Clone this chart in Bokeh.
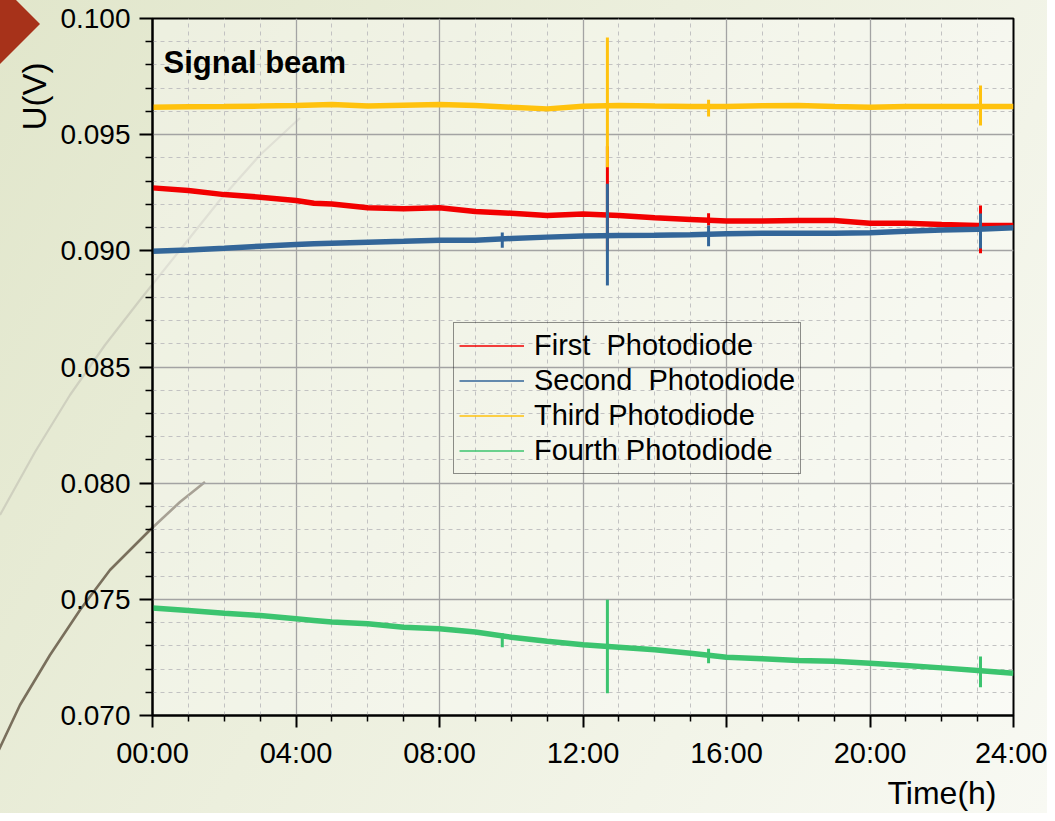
import math
from bokeh.plotting import figure
from bokeh.models import (Range1d, FixedTicker, Legend, LegendItem, Label, Title,
                          NumeralTickFormatter)
from bokeh.embed import file_html
from bokeh.resources import INLINE

# ---------------- data ----------------
hours = [0, 1, 2, 3, 4, 4.5, 5, 6, 7, 8, 9, 10, 11, 12, 13, 14, 15, 16, 17, 18, 19, 20, 21, 22, 23, 24]

first_pd = [0.09271, 0.09260, 0.09242, 0.09231, 0.09217, 0.09205, 0.09202, 0.09185, 0.09181, 0.09185,
            0.09169, 0.09162, 0.09152, 0.09159, 0.09152, 0.09142, 0.09135, 0.09128, 0.09128, 0.09131,
            0.09131, 0.09119, 0.09119, 0.09113, 0.09109, 0.09109]
second_pd = [0.08998, 0.09004, 0.09011, 0.09020, 0.09027, 0.09030, 0.09033, 0.09037, 0.09041, 0.09046,
             0.09046, 0.09053, 0.09059, 0.09064, 0.09066, 0.09067, 0.09069, 0.09073, 0.09076, 0.09076,
             0.09076, 0.09078, 0.09084, 0.09090, 0.09093, 0.09099]
third_pd = [0.09618, 0.09620, 0.09621, 0.09623, 0.09626, 0.09628, 0.09630, 0.09623, 0.09627, 0.09630,
            0.09626, 0.09618, 0.09611, 0.09622, 0.09626, 0.09623, 0.09621, 0.09621, 0.09624, 0.09626,
            0.09621, 0.09618, 0.09621, 0.09621, 0.09621, 0.09621]
fourth_pd = [0.07463, 0.07452, 0.07440, 0.07430, 0.07416, 0.07409, 0.07402, 0.07395, 0.07380, 0.07373,
             0.07359, 0.07337, 0.07320, 0.07305, 0.07294, 0.07283, 0.07268, 0.07251, 0.07244, 0.07237,
             0.07234, 0.07225, 0.07215, 0.07205, 0.07194, 0.07182]

# transient spikes: time, low, high
first_spk_t = [12.68, 15.5, 23.08]
first_spk_lo = [0.0900, 0.09109, 0.08990]
first_spk_hi = [0.0945, 0.09162, 0.09195]
second_spk_t = [9.75, 12.68, 15.5, 23.08]
second_spk_lo = [0.09013, 0.08851, 0.09020, 0.09010]
second_spk_hi = [0.09079, 0.09289, 0.09109, 0.09161]
third_spk_t = [12.68, 15.5, 23.08]
third_spk_lo = [0.0936, 0.09578, 0.09539]
third_spk_hi = [0.09918, 0.09650, 0.09712]
fourth_spk_t = [9.75, 12.68, 15.5, 23.08]
fourth_spk_lo = [0.07294, 0.07096, 0.07225, 0.07122]
fourth_spk_hi = [0.07354, 0.07498, 0.07287, 0.07254]

series_names = ["First  Photodiode", "Second  Photodiode", "Third Photodiode", "Fourth Photodiode"]
colors = ["#f20000", "#336699", "#ffc20e", "#3cc46f"]

x_ticks = [0, 4, 8, 12, 16, 20, 24]
x_tick_labels = ["00:00", "04:00", "08:00", "12:00", "16:00", "20:00", "24:00"]
x_minor = [h for h in range(25) if h % 4 != 0]
y_ticks = [0.070, 0.075, 0.080, 0.085, 0.090, 0.095, 0.100]
y_minor = [round(0.070 + 0.001 * i, 3) for i in range(31) if i % 5 != 0]

# ---------------- layout constants ----------------
W, H = 1047, 813
BL, BR, BT, BB = 152, 34, 18, 98
X0, X1, Y0, Y1 = 0, 24, 0.070, 0.100
FW, FH = W - BL - BR, H - BT - BB

def dx(cx):  # canvas px -> data x
    return X0 + (cx - BL) / FW * (X1 - X0)

def dy(cy):  # canvas px -> data y
    return Y1 - (cy - BT) / FH * (Y1 - Y0)

FONT = "Liberation Sans"

# slide-background decoration (page background, not data)
deco_svg = (
    "<svg xmlns='http://www.w3.org/2000/svg' width='1047' height='813'>"
    "<polyline points='0,515 35,452 70,395 105,345 140,300 180,250 220,200 260,155 300,118' "
    "fill='none' stroke='%23cfd0bf' stroke-width='2.2' stroke-linejoin='round'/>"
    "<polyline points='-4,756 20,705 50,655 80,610 110,570 150,530 180,502 205,482' "
    "fill='none' stroke='%23796f5c' stroke-width='2.6' stroke-linejoin='round'/>"
    "<polygon points='-24,-40 40,24 -24,88' fill='%23a7321a'/>"
    "</svg>"
)

p = figure(width=W, height=H, output_backend="svg", toolbar_location=None,
           x_range=Range1d(X0, X1), y_range=Range1d(Y0, Y1),
           min_border_left=BL, min_border_right=BR, min_border_top=BT, min_border_bottom=BB,
           title=None)
p.styles = {"background": 'url("data:image/svg+xml;utf8,' + deco_svg + '") no-repeat 0 0, '
                          "linear-gradient(120deg, #e1e6cb 0%, #ecefdd 45%, #f8f9f3 100%)"}
p.border_fill_alpha = 0
p.background_fill_color = "white"
p.background_fill_alpha = 0.35
p.outline_line_color = "black"
p.outline_line_width = 2

# axes
p.xaxis.ticker = FixedTicker(ticks=x_ticks, minor_ticks=x_minor)
p.xaxis.major_label_overrides = {t: l for t, l in zip(x_ticks, x_tick_labels)}
p.yaxis.ticker = FixedTicker(ticks=y_ticks, minor_ticks=y_minor)
p.yaxis.formatter = NumeralTickFormatter(format="0.000")
for ax in (p.xaxis[0], p.yaxis[0]):
    ax.axis_line_color = "black"
    ax.axis_line_width = 2
    ax.major_tick_line_color = "black"
    ax.major_tick_line_width = 2
    ax.minor_tick_line_color = "black"
    ax.minor_tick_line_width = 1.5
    ax.major_tick_in = 0
    ax.minor_tick_in = 0
    ax.major_label_text_font = FONT
    ax.major_label_text_color = "black"
p.xaxis.major_tick_out = 12
p.xaxis.minor_tick_out = 6
p.xaxis.major_label_text_font_size = "29px"
p.xaxis.major_label_standoff = 9
p.yaxis.major_tick_out = 13
p.yaxis.minor_tick_out = 7
p.yaxis.major_label_text_font_size = "28px"
p.yaxis.major_label_standoff = 9

# grids
for g in (p.xgrid[0], p.ygrid[0]):
    g.grid_line_color = "#a3a3a3"
    g.grid_line_width = 1.3
    g.minor_grid_line_color = "#c2c2c2"
    g.minor_grid_line_width = 1
    g.minor_grid_line_dash = "4 4"
p.xgrid.ticker = p.xaxis.ticker
p.ygrid.ticker = p.yaxis.ticker

# data
data = [(first_pd, first_spk_t, first_spk_lo, first_spk_hi),
        (second_pd, second_spk_t, second_spk_lo, second_spk_hi),
        (third_pd, third_spk_t, third_spk_lo, third_spk_hi),
        (fourth_pd, fourth_spk_t, fourth_spk_lo, fourth_spk_hi)]
items = []
for (vals, st, slo, shi), name, c in zip(data, series_names, colors):
    p.line(hours, vals, line_color=c, line_width=5.5)
    p.segment(x0=st, y0=slo, x1=st, y1=shi, line_color=c, line_width=3)
    # one-point line: draws nothing, gives the thin legend swatch
    swatch = p.line(x=hours[:1], y=vals[:1], line_color=c, line_width=1.6)
    items.append(LegendItem(label=name, renderers=[swatch]))

legend = Legend(items=items, location=(301, 241), orientation="vertical",
                label_text_font=FONT, label_text_font_size="29px", label_text_color="black",
                glyph_width=65, glyph_height=35, label_height=35, label_standoff=10,
                spacing=0, padding=5, margin=0,
                border_line_color="#222222", border_line_width=1,
                background_fill_alpha=0)
p.add_layout(legend, "center")

# texts
p.add_layout(Label(x=dx(163), y=dy(62), text="Signal beam", text_font=FONT, text_font_size="31px",
                   text_font_style="bold", text_color="black", text_baseline="alphabetic"))
p.add_layout(Title(text="Time(h)", align="right", offset=17, standoff=2,
                   text_font=FONT, text_font_size="32px", text_font_style="normal",
                   text_color="black"), "below")
p.add_layout(Title(text="U(V)", align="right", offset=44, standoff=9,
                   text_font=FONT, text_font_size="33px", text_font_style="normal",
                   text_color="black"), "left")

open("out.html", "w").write(file_html(p, INLINE))
